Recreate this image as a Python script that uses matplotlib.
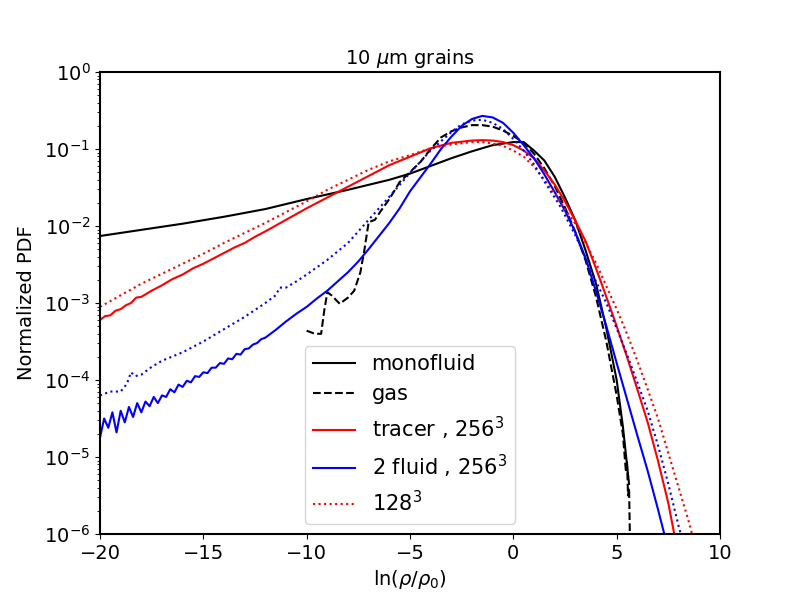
import numpy as np
import matplotlib
matplotlib.use('Agg')
import matplotlib.pyplot as plt

# log10 of the normalized PDF
mono_x = [-20, -18, -16, -14, -12, -10, -8, -6, -5, -4, -3, -2, -1, 0, 0.5, 1, 1.5, 2, 2.5, 3, 3.5, 4, 4.5, 5, 5.3, 5.5, 5.6]
mono_logy = [-2.13, -2.05, -1.97, -1.88, -1.78, -1.65, -1.53, -1.40, -1.32, -1.22, -1.12, -1.03, -0.95, -0.91, -0.91,
             -1.02, -1.15, -1.36, -1.63, -1.93, -2.32, -2.75, -3.33, -4.00, -4.60, -5.10, -5.35]

gas_x = [-10, -9.6, -9.3, -9.15, -9.0, -8.8, -8.4, -8.0, -7.7, -7.4, -7.2, -7.0, -6.7, -6.4, -6.0, -5.5, -5.0,
         -4.5, -4.0, -3.5, -3.0, -2.5, -2.0, -1.5, -1.0, -0.5, 0, 0.5, 1.0, 1.5, 2.0, 2.5, 3.0, 3.5, 4.0, 4.5,
         5.0, 5.3, 5.45, 5.5, 5.55, 5.6, 5.65]
gas_logy = [-3.36, -3.40, -3.40, -3.10, -2.86, -2.90, -3.01, -2.93, -2.84, -2.60, -2.30, -1.95, -1.92, -1.80,
            -1.65, -1.43, -1.30, -1.17, -1.00, -0.85, -0.77, -0.72, -0.69, -0.69, -0.71, -0.76, -0.83, -0.92,
            -1.06, -1.25, -1.48, -1.76, -2.08, -2.45, -2.92, -3.50, -4.20, -4.70, -5.20, -5.05, -5.50, -5.40, -6.20]

tracer_x = [-20, -19.75, -19.5, -19.25, -19, -18.75, -18.5, -18.25, -18, -17.5, -17, -16.5, -16, -15.5, -15,
            -14.5, -14, -13.5, -13, -12.5, -12, -11, -10, -9, -8, -7, -6, -5, -4, -3, -2, -1.5, -1, -0.5, 0,
            0.5, 1.0, 1.5, 2.0, 2.5, 3.0, 3.5, 4.0, 4.5, 5.0, 5.5, 6.0, 6.5, 7.0, 7.5, 8.0]
tracer_logy = [-3.22, -3.17, -3.16, -3.10, -3.08, -3.03, -3.00, -2.93, -2.92, -2.84, -2.77, -2.69, -2.63, -2.55,
               -2.49, -2.42, -2.35, -2.28, -2.22, -2.14, -2.07, -1.92, -1.77, -1.63, -1.49, -1.35, -1.21, -1.10,
               -0.99, -0.92, -0.89, -0.885, -0.89, -0.91, -0.95, -1.02, -1.12, -1.28, -1.46, -1.68, -1.93, -2.20,
               -2.55, -2.92, -3.30, -3.70, -4.12, -4.55, -5.05, -5.60, -6.30]

tracer128_x = [-20, -19, -18, -17, -16, -15, -14, -13, -12, -11, -10, -9, -8, -7, -6, -5, -4, -3, -2, -1.5, -1,
               -0.5, 0, 0.5, 1.0, 1.5, 2.0, 2.5, 3.0, 3.5, 4.0, 4.5, 5.0, 5.5, 6.0, 6.5, 7.0, 7.5, 8.0, 8.5, 8.8]
tracer128_logy = [-3.05, -2.90, -2.75, -2.62, -2.49, -2.36, -2.22, -2.09, -1.96, -1.82, -1.68, -1.53, -1.40,
                  -1.27, -1.16, -1.08, -0.99, -0.94, -0.91, -0.91, -0.93, -0.96, -1.02, -1.10, -1.23, -1.40, -1.58,
                  -1.78, -1.97, -2.22, -2.48, -2.78, -3.08, -3.40, -3.75, -4.12, -4.50, -4.95, -5.40, -5.85, -6.15]

fluid_x = [-20.0, -19.8, -19.6, -19.4, -19.2, -19.0, -18.8, -18.6, -18.4, -18.2, -18.0, -17.8, -17.6, -17.4,
           -17.2, -17.0, -16.8, -16.6, -16.4, -16.2, -16.0, -15.8, -15.6, -15.4, -15.2, -15.0, -14.8, -14.6,
           -14.4, -14.2, -14.0, -13.8, -13.6, -13.4, -13.2, -13.0, -12.8, -12.6, -12.4, -12.2, -12.0, -11.5,
           -11.0, -10.5, -10.0, -9.5, -9.0, -8.5, -8.0, -7.5, -7.0, -6.5, -6.0, -5.5, -5.0, -4.5, -4.0, -3.5,
           -3.0, -2.5, -2.0, -1.5, -1.0, -0.5, 0, 0.5, 1.0, 1.5, 2.0, 2.5, 3.0, 3.5, 4.0, 4.5, 5.0, 5.5, 6.0,
           6.5, 7.0, 7.4]
fluid_logy = [-4.75, -4.50, -4.62, -4.42, -4.68, -4.40, -4.55, -4.35, -4.48, -4.30, -4.42, -4.28, -4.34, -4.22,
              -4.30, -4.20, -4.22, -4.12, -4.16, -4.06, -4.09, -4.01, -4.03, -3.95, -3.96, -3.90, -3.91, -3.84,
              -3.84, -3.78, -3.79, -3.72, -3.73, -3.66, -3.67, -3.60, -3.59, -3.54, -3.52, -3.47, -3.45, -3.35,
              -3.24, -3.14, -3.05, -2.94, -2.84, -2.72, -2.60, -2.46, -2.30, -2.13, -1.96, -1.77, -1.55, -1.37,
              -1.19, -1.00, -0.84, -0.70, -0.61, -0.57, -0.59, -0.66, -0.79, -0.95, -1.12, -1.33, -1.56, -1.80,
              -2.08, -2.42, -2.85, -3.30, -3.78, -4.25, -4.72, -5.18, -5.68, -6.10]

fluid128_x = [-20, -19.5, -19, -18.7, -18.5, -18.3, -18, -17.5, -17, -16, -15, -14, -13, -12, -11.5, -11.3,
              -11, -10.5, -10, -9, -8, -7, -6, -5, -4, -3, -2.5, -2, -1.5, -1, -0.5, 0, 0.5, 1, 1.5, 2, 2.3,
              3.0, 3.5, 4.0, 4.5, 5.0, 5.5, 6.0, 6.5, 7.0, 7.5, 8.0, 8.2]
fluid128_logy = [-4.20, -4.15, -4.15, -4.05, -3.90, -3.95, -3.93, -3.83, -3.75, -3.64, -3.50, -3.34, -3.18,
                 -3.00, -2.90, -2.80, -2.80, -2.72, -2.63, -2.44, -2.22, -1.92, -1.62, -1.31, -1.02, -0.78, -0.68,
                 -0.63, -0.62, -0.66, -0.74, -0.87, -1.02, -1.20, -1.42, -1.63, -1.76, -2.12, -2.42, -2.72, -3.00,
                 -3.33, -3.67, -4.03, -4.40, -4.85, -5.35, -5.90, -6.10]

plt.rcParams['font.size'] = 14
plt.rcParams['axes.linewidth'] = 1.5

fig, ax = plt.subplots(figsize=(8, 6), dpi=100)
ax.plot(mono_x, 10 ** np.array(mono_logy), 'k-', lw=1.5, label='monofluid')
ax.plot(gas_x, 10 ** np.array(gas_logy), 'k--', lw=1.5, label='gas')
ax.plot(tracer_x, 10 ** np.array(tracer_logy), 'r-', lw=1.5, label='tracer , $256^3$')
ax.plot(fluid_x, 10 ** np.array(fluid_logy), 'b-', lw=1.5, label='2 fluid , $256^3$')
ax.plot(tracer128_x, 10 ** np.array(tracer128_logy), 'r:', lw=1.5, label='$128^3$')
ax.plot(fluid128_x, 10 ** np.array(fluid128_logy), 'b:', lw=1.5)

ax.set_yscale('log')
ax.set_xlim(-20, 10)
ax.set_ylim(1e-6, 1)
ax.set_xlabel(r'ln($\rho/\rho_0$)')
ax.set_ylabel('Normalized PDF', labelpad=6)
ax.set_title(r'10 $\mu$m grains', fontsize=14)
ax.legend(loc='lower center', fontsize=15)
plt.savefig('out.png', dpi=100)
